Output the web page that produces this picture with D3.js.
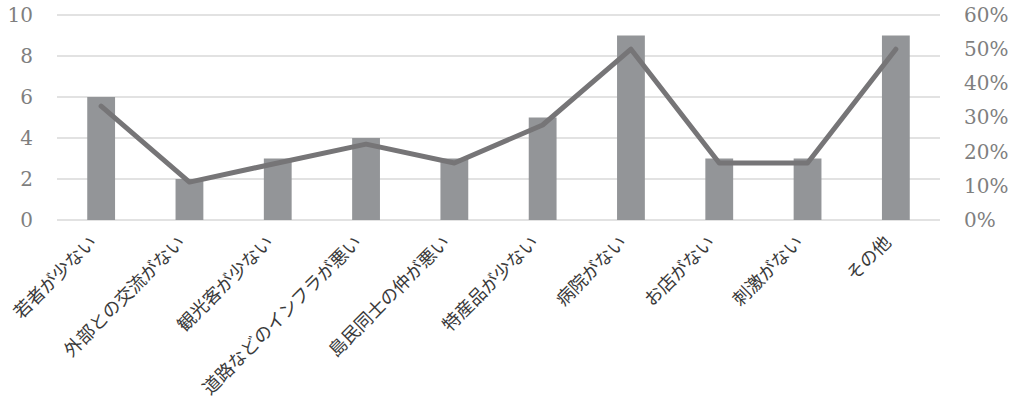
<!DOCTYPE html>
<html>
<head>
  <meta charset="UTF-8">
  <style>
    body { margin: 0; background: white; }
    .tick text { font-family: "DejaVu Serif", serif; font-size: 20px; fill: #7f7f7f; }
    .cat { font-family: "Noto Sans CJK JP", sans-serif; font-size: 18px; fill: #3a3a3a; }
  </style>
</head>
<body>
<svg></svg>
<script src="https://d3js.org/d3.v7.min.js"></script>
<script>

let width = 1014, height = 407;

// data
let categories = ["若者が少ない", "外部との交流がない", "観光客が少ない", "道路などのインフラが悪い",
  "島民同士の仲が悪い", "特産品が少ない", "病院がない", "お店がない", "刺激がない", "その他"];
let counts = [6, 2, 3, 4, 3, 5, 9, 3, 3, 9];
let ratios = [0.333, 0.111, 0.167, 0.222, 0.167, 0.278, 0.5, 0.167, 0.167, 0.5];
let leftTicks = [0, 2, 4, 6, 8, 10];
let rightTicks = [0, 0.1, 0.2, 0.3, 0.4, 0.5, 0.6];

let margin = {left: 57, right: 74, top: 15, bottom: 187};

let svg = d3.select("svg")
    .attr("width", width)
    .attr("height", height);

let x = d3.scaleBand()
    .domain(categories)
    .range([margin.left, width - margin.right])
    .paddingInner(0.685)
    .paddingOuter(0.3425);

let y = d3.scaleLinear().domain([0, 10]).range([height - margin.bottom, margin.top]);
let y2 = d3.scaleLinear().domain([0, 0.6]).range([height - margin.bottom, margin.top]);

// gridlines
svg.append("g")
  .selectAll("line")
  .data(leftTicks)
  .enter()
  .append("line")
  .attr("x1", margin.left)
  .attr("x2", width - margin.right)
  .attr("y1", d => y(d))
  .attr("y2", d => y(d))
  .attr("stroke", "#d9d9d9")
  .attr("stroke-width", 1.5);

// left axis
let leftAxis = svg.append("g")
  .attr("transform", `translate(${margin.left - 13}, 0)`)
  .call(d3.axisLeft(y).tickValues(leftTicks).tickSize(0).tickPadding(11));
leftAxis.select(".domain").remove();

// right axis
let rightAxis = svg.append("g")
  .attr("transform", `translate(${width - margin.right + 13}, 0)`)
  .call(d3.axisRight(y2).tickValues(rightTicks).tickSize(0).tickPadding(11).tickFormat(d3.format(".0%")));
rightAxis.select(".domain").remove();

// bars
svg.append("g")
  .selectAll("rect")
  .data(categories)
  .enter()
  .append("rect")
  .attr("x", d => x(d))
  .attr("y", (d, i) => y(counts[i]))
  .attr("width", x.bandwidth())
  .attr("height", (d, i) => y(0) - y(counts[i]))
  .attr("fill", "#939598");

// line
let line = d3.line()
  .x((d, i) => x(categories[i]) + x.bandwidth() / 2)
  .y(d => y2(d));

svg.append("path")
  .datum(ratios)
  .attr("d", line)
  .attr("fill", "none")
  .attr("stroke", "#767577")
  .attr("stroke-width", 5)
  .attr("stroke-linecap", "round")
  .attr("stroke-linejoin", "round");

// category labels
svg.append("g")
  .selectAll("text")
  .data(categories)
  .enter()
  .append("text")
  .attr("class", "cat")
  .attr("text-anchor", "end")
  .attr("transform", d => `translate(${x(d) + x.bandwidth() / 2 - 8}, ${y(0) + 19}) rotate(-45)`)
  .attr("dy", "0.35em")
  .text(d => d);

</script>
</body>
</html>
